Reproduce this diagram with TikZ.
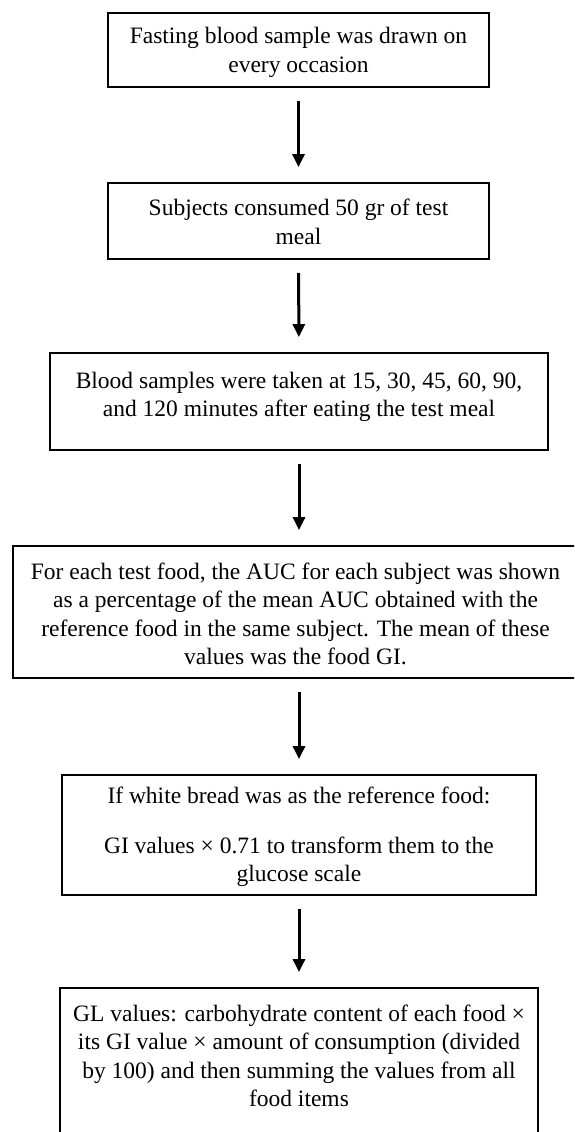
\documentclass[tikz,border=0pt]{standalone}
\usepackage{fontspec}
\setmainfont{Liberation Serif}
\usetikzlibrary{arrows.meta}
\tikzset{
  flowbox/.style={draw, line width=1.8pt, inner sep=0pt},
  flowtext/.style={align=center, inner sep=0pt, font=\fontsize{23.5}{28.5}\selectfont},
  flowarrow/.style={line width=3pt, -{Triangle[length=13pt,width=12pt]}, shorten <=13pt, shorten >=15pt}
}
\begin{document}
\begin{tikzpicture}[x=1pt,y=-1pt]
\useasboundingbox (0,0) rectangle (574,1132);
\clip (0,0) rectangle (574,1132);
\fill[white] (0,0) rectangle (574,1132);
% boxes
\node[flowbox, minimum width=381pt, minimum height=74pt] (b1) at (298.5,50) {};
\node[flowbox, minimum width=381pt, minimum height=76pt] (b2) at (298.5,221) {};
\node[flowbox, minimum width=498pt, minimum height=97pt] (b3) at (299,401.5) {};
\node[flowbox, minimum width=565pt, minimum height=132pt] (b4) at (295.5,612) {};
\node[flowbox, minimum width=474pt, minimum height=120pt] (b5) at (299,835) {};
\node[flowbox, minimum width=478pt, minimum height=162pt] (b6) at (299,1069) {};
% texts
\node[flowtext] (t1) at (298.5,52.5) {Fasting blood sample was drawn on\\every occasion};
\node[flowtext] (t2) at (298.5,222) {Subjects consumed 50 gr of test\\meal};
\node[flowtext] (t3) at (299,397) {Blood samples were taken at 15, 30, 45, 60, 90,\\and 120 minutes after eating the test meal};
\node[flowtext] (t4) at (295.5,614) {For each test food, the AUC for each subject was shown\\as a percentage of the mean AUC obtained with the\\reference food in the same subject. The mean of these\\values was the food GI.};
\node[flowtext] (t5) at (299,837) {If white bread was as the reference food:\\[21.5pt]GI values × 0.71 to transform them to the\\glucose scale};
\node[flowtext] (t6) at (299,1056) {GL values: carbohydrate content of each food ×\\its GI value × amount of consumption (divided\\by 100) and then summing the values from all\\food items};
% arrows
\draw[flowarrow] (b1.south) -- (b2.north);
\draw[flowarrow] (b2.south) -- (b3.north);
\draw[flowarrow] (b3.south) -- (b4.north -| b3.south);
\draw[flowarrow] (b4.south -| b5.north) -- (b5.north);
\draw[flowarrow] (b5.south) -- (b6.north);
\end{tikzpicture}
\end{document}
